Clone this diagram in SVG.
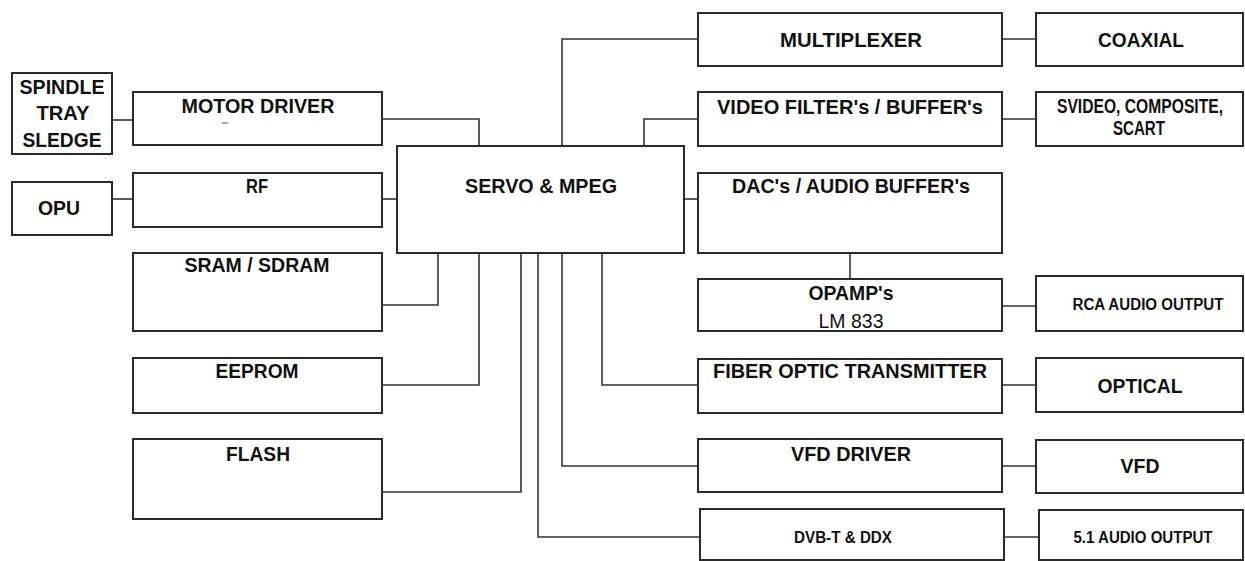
<svg xmlns="http://www.w3.org/2000/svg" width="1245" height="561" viewBox="0 0 1245 561">
<style>
.box{fill:#fff;stroke:#2a2a2a;stroke-width:2}
.wire{fill:none;stroke:#333;stroke-width:1.6}
.t{font-family:"Liberation Sans",Arial,sans-serif;font-weight:bold;fill:#111;text-anchor:middle;font-size:21px}
.s{font-size:16px}
.r{font-weight:normal}
</style>
<rect width="1245" height="561" fill="#fff"/>
<g id="connectors">
<path class="wire" d="M112,120H133"/>
<path class="wire" d="M112,199H133"/>
<path class="wire" d="M382,119H479V146"/>
<path class="wire" d="M382,199H397"/>
<path class="wire" d="M382,305H438V253"/>
<path class="wire" d="M382,385H479V253"/>
<path class="wire" d="M382,492H521V253"/>
<path class="wire" d="M538,253V537H700"/>
<path class="wire" d="M562,253V466H698"/>
<path class="wire" d="M602,253V385H698"/>
<path class="wire" d="M562,146V39H698"/>
<path class="wire" d="M644,146V119H698"/>
<path class="wire" d="M684,199H698"/>
<path class="wire" d="M850,253V279"/>
<path class="wire" d="M1002,39H1036"/>
<path class="wire" d="M1002,119H1036"/>
<path class="wire" d="M1002,306H1036"/>
<path class="wire" d="M1002,385H1036"/>
<path class="wire" d="M1002,466H1036"/>
<path class="wire" d="M1004,537H1039"/>
</g>
<g id="spindle"><rect class="box" x="12" y="73" width="100" height="81"/>
<text class="t" x="62" y="94" font-size="20" textLength="85" lengthAdjust="spacingAndGlyphs">SPINDLE</text>
<text class="t" x="63" y="120" font-size="20" textLength="53" lengthAdjust="spacingAndGlyphs">TRAY</text>
<text class="t" x="62" y="147" font-size="20" textLength="79" lengthAdjust="spacingAndGlyphs">SLEDGE</text></g>
<g id="motor"><rect class="box" x="133" y="92" width="249" height="53"/>
<text class="t" x="258" y="113" textLength="153" lengthAdjust="spacingAndGlyphs">MOTOR DRIVER</text>
<path d="M222,123H228" stroke="#555" stroke-width="1"/></g>
<g id="opu"><rect class="box" x="12" y="182" width="100" height="53"/>
<text class="t" x="59" y="215" textLength="42" lengthAdjust="spacingAndGlyphs">OPU</text></g>
<g id="rf"><rect class="box" x="133" y="173" width="249" height="54"/>
<text class="t" x="257" y="193" textLength="22" lengthAdjust="spacingAndGlyphs">RF</text></g>
<g id="sram"><rect class="box" x="133" y="253" width="249" height="78"/>
<text class="t" x="257" y="272" textLength="145" lengthAdjust="spacingAndGlyphs">SRAM / SDRAM</text></g>
<g id="eeprom"><rect class="box" x="133" y="358" width="249" height="55"/>
<text class="t" x="257" y="378" textLength="83" lengthAdjust="spacingAndGlyphs">EEPROM</text></g>
<g id="flash"><rect class="box" x="133" y="439" width="249" height="80"/>
<text class="t" x="258" y="461" textLength="64" lengthAdjust="spacingAndGlyphs">FLASH</text></g>
<g id="servo"><rect class="box" x="397" y="146" width="287" height="107"/>
<text class="t" x="541" y="193" textLength="152" lengthAdjust="spacingAndGlyphs">SERVO &amp; MPEG</text></g>
<g id="mux"><rect class="box" x="698" y="13" width="304" height="53"/>
<text class="t" x="851" y="47" textLength="142" lengthAdjust="spacingAndGlyphs">MULTIPLEXER</text></g>
<g id="coax"><rect class="box" x="1036" y="13" width="207" height="53"/>
<text class="t" x="1141" y="47" textLength="86" lengthAdjust="spacingAndGlyphs">COAXIAL</text></g>
<g id="video"><rect class="box" x="698" y="92" width="304" height="54"/>
<text class="t" x="850" y="114" textLength="266" lengthAdjust="spacingAndGlyphs">VIDEO FILTER's / BUFFER's</text></g>
<g id="svideo"><rect class="box" x="1036" y="92" width="207" height="54"/>
<text class="t" x="1140" y="113" font-size="15" textLength="166" lengthAdjust="spacingAndGlyphs">SVIDEO, COMPOSITE,</text>
<text class="t" x="1139" y="135" font-size="15" textLength="52" lengthAdjust="spacingAndGlyphs">SCART</text></g>
<g id="dac"><rect class="box" x="698" y="173" width="304" height="80"/>
<text class="t" x="851" y="193" textLength="238" lengthAdjust="spacingAndGlyphs">DAC's / AUDIO BUFFER's</text></g>
<g id="opamp"><rect class="box" x="698" y="279" width="304" height="52"/>
<text class="t" x="851" y="300" textLength="85" lengthAdjust="spacingAndGlyphs">OPAMP's</text>
<text class="t r" x="851" y="328" textLength="65" lengthAdjust="spacingAndGlyphs">LM 833</text></g>
<g id="rca"><rect class="box" x="1036" y="276" width="207" height="55"/>
<text class="t s" x="1148" y="310" textLength="151" lengthAdjust="spacingAndGlyphs">RCA AUDIO OUTPUT</text></g>
<g id="fiber"><rect class="box" x="698" y="359" width="304" height="54"/>
<text class="t" x="850" y="378" textLength="274" lengthAdjust="spacingAndGlyphs">FIBER OPTIC TRANSMITTER</text></g>
<g id="optical"><rect class="box" x="1036" y="358" width="207" height="54"/>
<text class="t" x="1140" y="393" textLength="85" lengthAdjust="spacingAndGlyphs">OPTICAL</text></g>
<g id="vfddriver"><rect class="box" x="698" y="439" width="304" height="53"/>
<text class="t" x="851" y="461" textLength="120" lengthAdjust="spacingAndGlyphs">VFD DRIVER</text></g>
<g id="vfd"><rect class="box" x="1036" y="440" width="207" height="53"/>
<text class="t" x="1140" y="473" textLength="39" lengthAdjust="spacingAndGlyphs">VFD</text></g>
<g id="dvb"><rect class="box" x="700" y="509" width="304" height="51"/>
<text class="t s" x="843" y="543" textLength="98" lengthAdjust="spacingAndGlyphs">DVB-T &amp; DDX</text></g>
<g id="audio51"><rect class="box" x="1039" y="510" width="204" height="50"/>
<text class="t s" x="1143" y="543" textLength="139" lengthAdjust="spacingAndGlyphs">5.1 AUDIO OUTPUT</text></g>
</svg>
